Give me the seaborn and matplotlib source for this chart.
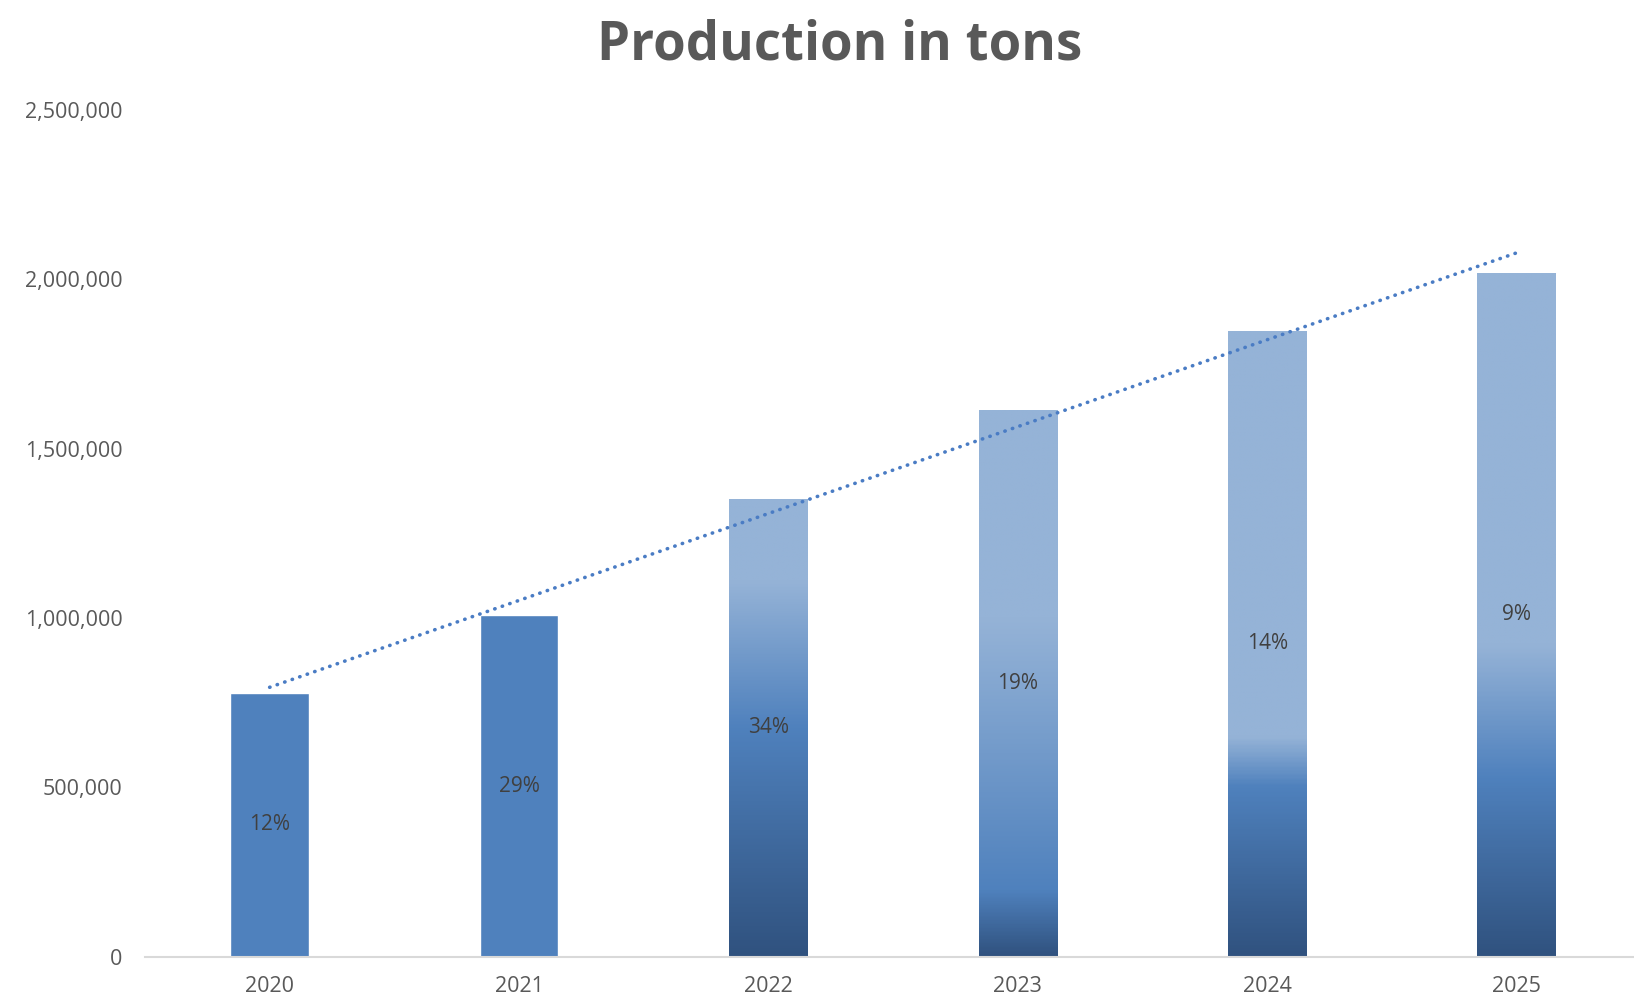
import numpy as np
import pandas as pd
import seaborn as sns
import matplotlib.pyplot as plt
from matplotlib.colors import LinearSegmentedColormap
from matplotlib.ticker import FuncFormatter

# ===== data =====
years = ["2020", "2021", "2022", "2023", "2024", "2025"]
production = [780000, 1008000, 1352000, 1613000, 1847000, 2019000]
growth_pct = [12, 29, 34, 19, 14, 9]

# gradient stops (fraction of bar height: mid blue, light blue) for the shaded bars
gradient_stops = {2: (0.50, 0.82), 3: (0.12, 0.62), 4: (0.27, 0.35), 5: (0.26, 0.455)}

DARK = "#30527F"
MID = "#4F81BD"
LIGHT = "#95B3D7"
TEXT = "#595959"

sns.set_theme(style="white")
plt.rcParams["font.family"] = ["Open Sans", "DejaVu Sans"]

df = pd.DataFrame({"year": years, "tons": production})

fig = plt.figure(figsize=(16.34, 10.05), dpi=100)
ax = fig.add_axes([0.0887, 0.0478, 0.9113, 0.8432])

sns.barplot(data=df, x="year", y="tons", color=MID, saturation=1, width=0.315, ax=ax, zorder=1)

# ===== gradient fill =====
grad = np.linspace(0, 1, 400).reshape(-1, 1)
for i, patch in enumerate(ax.patches):
    if i not in gradient_stops:
        continue
    mid_f, light_f = gradient_stops[i]
    cmap = LinearSegmentedColormap.from_list(
        f"g{i}", [(0, DARK), (mid_f, MID), (light_f, LIGHT), (1, LIGHT)]
    )
    x0, y0 = patch.get_x(), patch.get_y()
    w, h = patch.get_width(), patch.get_height()
    im = ax.imshow(grad, extent=[x0, x0 + w, y0, y0 + h], origin="lower",
                   aspect="auto", cmap=cmap, vmin=0, vmax=1, zorder=2,
                   interpolation="bilinear")
    im.set_clip_path(patch)

# ===== labels =====
for i, (v, p) in enumerate(zip(production, growth_pct)):
    ax.text(i, v / 2, f"{p}%", ha="center", va="center", fontsize=15,
            color="#404040", zorder=3)

# ===== linear trendline =====
xs = np.arange(len(years))
slope, intercept = np.polyfit(xs, production, 1)
ax.plot([xs[0], xs[-1]], [intercept, intercept + slope * xs[-1]], color="#4A7CC4",
        linewidth=2.6, linestyle=(0, (0.1, 2.1)), dash_capstyle="round", zorder=4)

ax.set_xlim(-0.5, 5.47)
ax.set_ylim(0, 2500000)
ax.set_yticks(np.arange(0, 2500001, 500000))
ax.yaxis.set_major_formatter(FuncFormatter(lambda v, _: f"{int(v):,}"))
ax.set_xlabel("")
ax.set_ylabel("")
ax.tick_params(axis="both", labelsize=15.5, colors=TEXT, length=0)
ax.tick_params(axis="y", pad=16)
ax.tick_params(axis="x", pad=14)

for s in ["left", "right", "top"]:
    ax.spines[s].set_visible(False)
ax.spines["bottom"].set_color("#D9D9D9")
ax.spines["bottom"].set_linewidth(1.5)

fig.text(0.514, 0.955, "Production in tons", ha="center", va="center",
         fontsize=38, fontweight="bold", color=TEXT)

fig.savefig("out.png", dpi=100)
plt.close(fig)
